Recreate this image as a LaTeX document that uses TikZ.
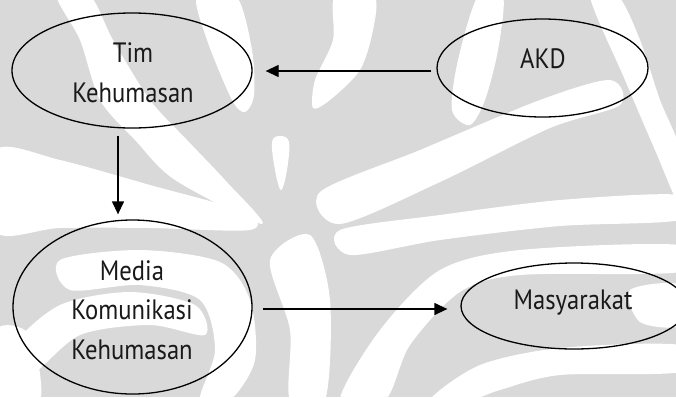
\documentclass[tikz,border=0pt]{standalone}
\usepackage{fontspec}
\setmainfont{PT Sans}[FakeStretch=0.88]
\usetikzlibrary{arrows.meta,shapes.geometric}
\begin{document}
\begin{tikzpicture}[x=1pt,y=-1pt,
  wm/.style={fill=white},
  oval/.style={draw=black,line width=1.3pt,ellipse,inner sep=0pt},
  lbl/.style={anchor=base,align=center,font=\fontsize{28}{39.5}\selectfont,text=black!90,inner sep=0pt},
  arr/.style={draw=black,line width=1.3pt,-{Triangle[length=13pt,width=12pt]}}]
\useasboundingbox (0,0) rectangle (676,397);
\clip (0,0) rectangle (676,397);
% watermark background
\fill[black!15] (0,0) rectangle (676,397);
\fill[wm] plot[smooth cycle,tension=0.5] coordinates {(57,-4) (80,40) (100,100) (135,140) (175,180) (262,224) (225,180) (187,140) (150,100) (113,40) (90,-4)};
\fill[wm] plot[smooth cycle,tension=0.5] coordinates {(197,-4) (207,40) (232,100) (245,112) (254,95) (252,50) (236,-4)};
\fill[wm] plot[smooth cycle,tension=0.5] coordinates {(335,-4) (333,40) (315,80) (313,108) (330,100) (360,70) (373,30) (374,-4)};
\fill[wm] plot[smooth cycle,tension=0.6] coordinates {(272,142) (280,136) (289,142) (287,170) (281,190) (275,170)};
\fill[wm] plot[smooth cycle,tension=0.5] coordinates {(478,-4) (503,-4) (498,50) (485,100) (470,125) (452,110) (458,60)};
\fill[wm] plot[smooth cycle,tension=0.5] coordinates {(320,192) (420,150) (540,100) (610,80) (620,105) (550,128) (440,182) (340,224)};
\fill[wm] plot[smooth cycle,tension=0.5] coordinates {(590,-4) (618,-4) (640,40) (660,100) (680,150) (680,205) (655,150) (625,80)};
\fill[wm] plot[smooth cycle,tension=0.5] coordinates {(-4,150) (60,160) (150,185) (245,212) (250,230) (150,228) (60,228) (-4,232)};
\fill[wm] plot[smooth cycle,tension=0.5] coordinates {(340,400) (380,330) (440,270) (520,250) (680,245) (680,272) (520,275) (460,292) (410,345) (385,400)};
\fill[wm] plot[smooth cycle,tension=0.5] coordinates {(430,400) (480,365) (560,348) (680,345) (680,372) (560,375) (500,390) (470,400)};
\fill[wm] plot[smooth cycle,tension=0.5] coordinates {(340,230) (440,215) (560,200) (680,195) (680,220) (560,226) (440,240) (350,255)};
\fill[wm] plot[smooth cycle,tension=0.5] coordinates {(60,260) (140,250) (220,262) (250,300) (255,360) (230,400) (200,400) (215,350) (200,300) (140,285) (70,290)};
\fill[wm] plot[smooth cycle,tension=0.5] coordinates {(15,345) (60,305) (130,292) (195,305) (205,335) (150,325) (80,335) (30,375)};
\fill[wm] plot[smooth cycle,tension=0.5] coordinates {(630,290) (680,285) (680,325) (640,322)};
\fill[wm] plot[smooth cycle,tension=0.5] coordinates {(-4,330) (30,335) (40,400) (-4,400)};
\fill[wm] plot[smooth cycle,tension=0.5] coordinates {(270,260) (310,235) (330,300) (325,400) (290,400) (290,330)};
% nodes
\node[oval,minimum width=240pt,minimum height=115pt] (tim) at (132,70.5) {};
\node[oval,minimum width=211pt,minimum height=98pt] (akd) at (542.5,68) {};
\node[oval,minimum width=239pt,minimum height=174pt] (media) at (132.5,307) {};
\node[oval,minimum width=226pt,minimum height=86pt] (masy) at (574,306) {};
\node[lbl] (timtxt) at (133,102) {Tim\\Kehumasan};
\node[lbl] (akdtxt) at (543,68) {AKD};
\node[lbl] (mediatxt) at (132,359) {Media\\Komunikasi\\Kehumasan};
\node[lbl] (masytxt) at (573,309) {Masyarakat};
% connectors
\draw[arr,shorten <=5pt,shorten >=13pt] ([yshift=-3pt]akd.west) -- ([yshift=-3pt]akd.west -| tim.east);
\draw[arr,shorten <=7pt,shorten >=5pt] ([xshift=-14pt]tim.south) -- ([xshift=-14pt]tim.south |- media.north);
\draw[arr,shorten <=10pt,shorten >=13pt] ([yshift=-2pt]media.east) -- ([yshift=-2pt]media.east -| masy.west);
\end{tikzpicture}
\end{document}
